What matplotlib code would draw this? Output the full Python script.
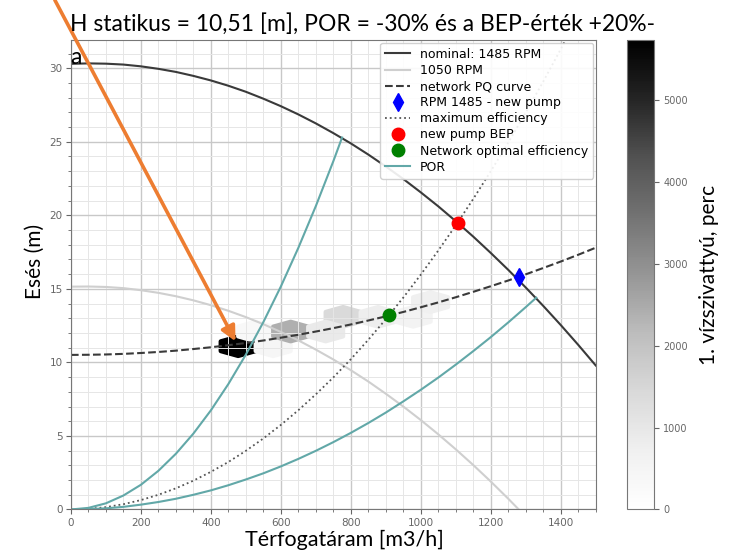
import numpy as np
import matplotlib.pyplot as plt
from matplotlib.ticker import MultipleLocator

# pump and network curves, head [m] read every 50 m3/h
q = [0, 50, 100, 150, 200, 250, 300, 350, 400, 450, 500, 550, 600, 650, 700, 750,
     800, 850, 900, 950, 1000, 1050, 1100, 1150, 1200, 1250, 1300, 1350, 1400, 1450, 1500]
h_nominal = [30.30, 30.33, 30.31, 30.25, 30.13, 29.96, 29.75, 29.48, 29.17, 28.81,
             28.40, 27.93, 27.42, 26.86, 26.25, 25.59, 24.89, 24.13, 23.32, 22.47,
             21.56, 20.61, 19.60, 18.55, 17.44, 16.29, 15.09, 13.84, 12.54, 11.19, 9.79]
h_network = [10.51, 10.52, 10.54, 10.58, 10.64, 10.71, 10.80, 10.91, 11.03, 11.17,
             11.32, 11.49, 11.68, 11.88, 12.10, 12.33, 12.58, 12.85, 13.13, 13.43,
             13.75, 14.08, 14.43, 14.80, 15.18, 15.57, 15.99, 16.42, 16.86, 17.32, 17.80]

q_1050 = [0, 50, 100, 150, 200, 250, 300, 350, 400, 450, 500, 550, 600, 650, 700,
          750, 800, 850, 900, 950, 1000, 1050, 1100, 1150, 1200, 1250, 1280]
h_1050 = [15.15, 15.16, 15.13, 15.05, 14.91, 14.73, 14.50, 14.22, 13.89, 13.51,
          13.08, 12.60, 12.07, 11.50, 10.87, 10.20, 9.47, 8.70, 7.87, 7.00,
          6.08, 5.11, 4.09, 3.02, 1.90, 0.73, 0.0]

q_maxeff = [0, 50, 100, 150, 200, 250, 300, 350, 400, 450, 500, 550, 600, 650, 700,
            750, 800, 850, 900, 950, 1000, 1050, 1100, 1150, 1200, 1250, 1300, 1350,
            1400, 1450]
h_maxeff = [0.0, 0.04, 0.16, 0.36, 0.64, 1.00, 1.44, 1.96, 2.56, 3.23, 3.99, 4.83,
            5.75, 6.75, 7.83, 8.98, 10.22, 11.54, 12.94, 14.41, 15.97, 17.61, 19.32,
            21.12, 23.00, 24.95, 26.99, 29.10, 31.30, 33.58]

# POR limits (-30% / +20% of BEP flow)
q_por_low = [0, 50, 100, 150, 200, 250, 300, 350, 400, 450, 500, 550, 600, 650, 700,
             750, 775]
h_por_low = [0.0, 0.11, 0.42, 0.95, 1.68, 2.63, 3.79, 5.16, 6.74, 8.53, 10.53, 12.74,
             15.16, 17.79, 20.63, 23.68, 25.29]
q_por_high = [0, 50, 100, 150, 200, 250, 300, 350, 400, 450, 500, 550, 600, 650, 700,
              750, 800, 850, 900, 950, 1000, 1050, 1100, 1150, 1200, 1250, 1300, 1330]
h_por_high = [0.0, 0.02, 0.08, 0.18, 0.33, 0.51, 0.73, 1.00, 1.30, 1.65, 2.04, 2.46,
              2.93, 3.44, 3.99, 4.58, 5.21, 5.88, 6.59, 7.35, 8.14, 8.97, 9.85, 10.77,
              11.72, 12.72, 13.76, 14.40]

# operating points
bep_q, bep_h = 1105, 19.5
new_pump_q, new_pump_h = 1280, 15.8
opt_q, opt_h = 910, 13.2

# minutes spent in each operating region of pump 1
hex_q = [478, 578, 528, 628, 728, 778, 878, 978, 1028]
hex_h = [11.1, 11.1, 12.1, 12.1, 12.1, 13.1, 13.1, 13.1, 14.1]
hex_min = [5730, 450, 350, 2400, 900, 1400, 800, 600, 700]

title_font = ['Lato', 'DejaVu Sans']
por_color = '#62a8a8'

fig = plt.figure(figsize=(7.31, 5.52), dpi=100)
ax = fig.add_axes([0.097, 0.077, 0.718, 0.850])

hb = ax.hexbin(hex_q, hex_h, C=hex_min, reduce_C_function=np.sum,
               gridsize=(15, 16), extent=(78, 1578, 1.1, 33.1),
               cmap='Greys', vmin=0, vmax=max(hex_min), linewidths=3)

ax.plot(q, h_nominal, color='#3a3a3a', lw=1.5, label='nominal: 1485 RPM')
ax.plot(q_1050, h_1050, color='#cfcfcf', lw=1.5, label='1050 RPM')
ax.plot(q, h_network, '--', color='#3a3a3a', lw=1.5, label='network PQ curve')
ax.plot(new_pump_q, new_pump_h, 'd', color='blue', ms=9, label='RPM 1485 - new pump')
ax.plot(q_maxeff, h_maxeff, ':', color='#555555', lw=1.3, label='maximum efficiency')
ax.plot(bep_q, bep_h, 'o', color='red', ms=9, label='new pump BEP')
ax.plot(opt_q, opt_h, 'o', color='green', ms=9, label='Network optimal efficiency')
ax.plot(q_por_low, h_por_low, color=por_color, lw=1.5, label='POR')
ax.plot(q_por_high, h_por_high, color=por_color, lw=1.5)

ax.set_xlim(0, 1500)
ax.set_ylim(0, 31.9)
ax.xaxis.set_major_locator(MultipleLocator(200))
ax.xaxis.set_minor_locator(MultipleLocator(50))
ax.yaxis.set_major_locator(MultipleLocator(5))
ax.yaxis.set_minor_locator(MultipleLocator(1))
ax.grid(which='major', color='#c8c8c8', lw=1.0)
ax.grid(which='minor', color='#e6e6e6', lw=0.7)
ax.tick_params(which='both', colors='#666666', labelsize=7.5, pad=2.5)
for s in ax.spines.values():
    s.set_color('#777777')

ax.legend(loc='upper right', fontsize=9, borderaxespad=0.2, framealpha=0.9,
          labelspacing=0.25)

ax.set_xlabel('Térfogatáram [m3/h]', family=title_font, fontsize=15.5)
ax.xaxis.set_label_coords(0.522, -0.044)
ax.set_ylabel('Esés (m)', family=title_font, fontsize=15)
ax.yaxis.set_label_coords(-0.05, 0.528)

cax = fig.add_axes([0.858, 0.077, 0.036, 0.850])
cb = fig.colorbar(hb, cax=cax)
cb.set_ticks([0, 1000, 2000, 3000, 4000, 5000])
cb.ax.tick_params(colors='#666666', labelsize=7)
cb.outline.set_edgecolor('#777777')
cb.set_label('1. vízszivattyú, perc', family=title_font, fontsize=15, labelpad=8)

fig.text(0.096, 0.945, 'H statikus = 10,51 [m], POR = -30% és a BEP-érték +20%-',
         family=title_font, fontsize=16.5, va='baseline')
fig.text(0.096, 0.884, 'a', family=title_font, fontsize=16.5, va='baseline')

# arrow to the most used operating region
ax.annotate('', xy=(hex_q[0], hex_h[0]), xycoords='data',
            xytext=(0.075, 1.0), textcoords='figure fraction',
            arrowprops=dict(arrowstyle='-|>', color='#ed7d31', lw=2.6,
                            mutation_scale=22, shrinkA=0, shrinkB=4),
            annotation_clip=False)

fig.savefig('out.png', dpi=100)
